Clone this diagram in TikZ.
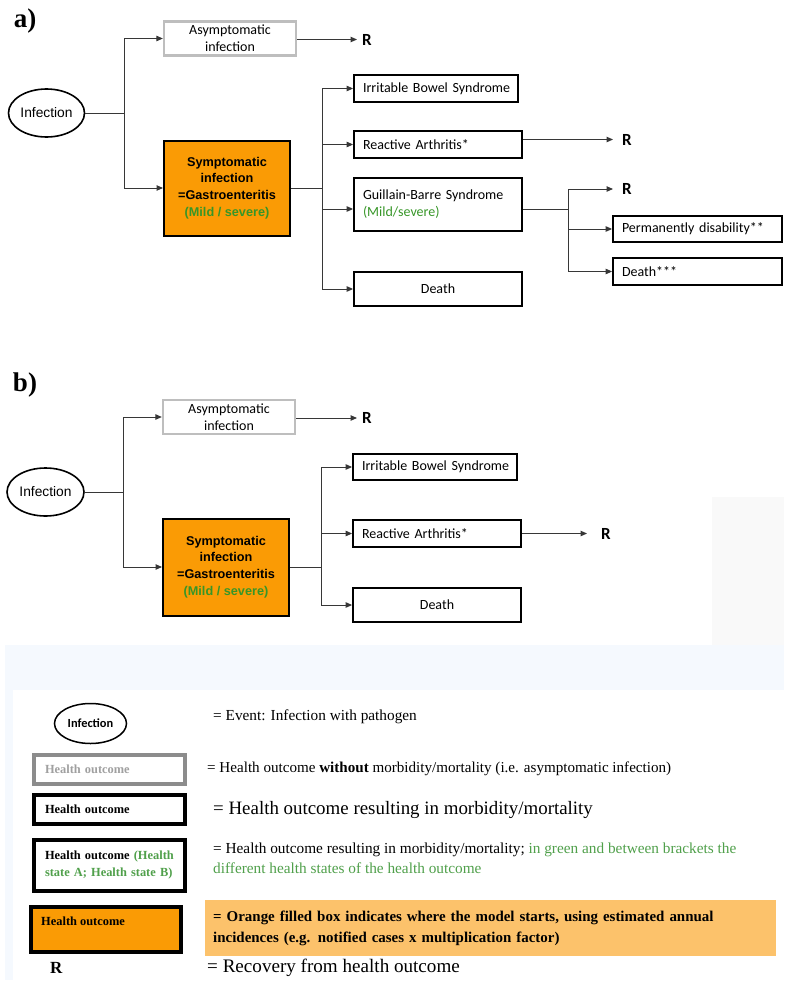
\documentclass[tikz,border=0pt]{standalone}
\usepackage{fontspec}
\setmainfont{Liberation Serif}
\newfontfamily\calfont{Carlito}
\newfontfamily\arfont{Liberation Sans}
\usetikzlibrary{arrows.meta,shapes.geometric}
\definecolor{orA}{RGB}{250,155,5}
\definecolor{orL}{RGB}{252,194,107}
\definecolor{grA}{RGB}{55,150,40}
\definecolor{grL}{RGB}{80,160,75}
\definecolor{bgB}{RGB}{245,249,254}
\definecolor{bgG}{RGB}{249,249,249}
\definecolor{connC}{RGB}{55,55,55}
\definecolor{asymC}{RGB}{190,190,190}
\definecolor{legGrayC}{RGB}{140,140,140}
\definecolor{legGrayT}{RGB}{160,160,160}
\tikzset{
  conn/.style={draw=connC, line width=1pt},
  arr/.style={conn, -{Triangle[length=6.5pt,width=5.5pt]}},
  evt/.style={ellipse, draw=black, line width=1.6pt, inner sep=0,
    font=\arfont\fontsize{13.8}{16}\selectfont},
  hbox/.style={rectangle, draw=black, line width=1.8pt, inner sep=0,
    font=\calfont\fontsize{14}{17}\selectfont},
  hboxl/.style={hbox, inner xsep=9pt, align=left},
  asymbox/.style={hbox, draw=asymC, line width=2.3pt, align=center, minimum width=132pt, minimum height=34pt},
  symbox/.style={rectangle, draw=black, fill=orA, line width=2pt, inner sep=0,
    align=center, minimum width=126pt, minimum height=95pt,
    font=\arfont\bfseries\fontsize{12.7}{16.7}\selectfont},
  rlab/.style={inner sep=0, anchor=west, font=\calfont\bfseries\fontsize{17}{17}\selectfont},
  panellab/.style={inner sep=0, font=\bfseries\fontsize{27}{27}\selectfont},
  lbox/.style={rectangle, draw=black, line width=4pt, inner ysep=0, inner xsep=11pt,
    align=left, minimum width=151pt, text width=129pt,
    font=\bfseries\fontsize{12.4}{17}\selectfont},
  ltxt/.style={anchor=west, inner sep=0, align=left},
}
\begin{document}
\begin{tikzpicture}[x=1pt,y=-1pt]
\useasboundingbox (0,0) rectangle (789,985);
% backgrounds
\fill[bgG] (712,497) rectangle (784,645);
\fill[bgB] (5,645) rectangle (784,980);
\fill[white] (13,690) rectangle (784,980);

% ================= a) =================
\node[panellab] (labA) at (25,21) {a)};
\node[evt, minimum width=76pt, minimum height=48pt] (infA) at (46.5,113) {Infection};
\node[asymbox] (asymA) at (230,38.5) {Asymptomatic\\infection};
\node[symbox] (symA) at (227,188) {Symptomatic\\infection\\=Gastroenteritis\\{\color{grA}(Mild / severe)}};
\node[hboxl, minimum width=164pt, text width=146pt, minimum height=27pt] (ibsA) at (436,88.5) {\mbox{Irritable Bowel Syndrome}};
\node[hboxl, minimum width=168pt, text width=150pt, minimum height=27pt] (raA) at (438,144.5) {\mbox{Reactive Arthritis*}};
\node[hboxl, minimum width=168pt, text width=150pt, minimum height=53pt] (gbsA) at (438,204.5) {\mbox{Guillain-Barre Syndrome}\\{\color{grA}(Mild/severe)}};
\node[hbox, minimum width=168pt, minimum height=34pt] (deathA) at (438,289) {Death};
\node[hboxl, minimum width=169pt, text width=151pt, minimum height=26pt] (permA) at (697.5,229) {\mbox{Permanently disability**}};
\node[hboxl, minimum width=169pt, text width=151pt, minimum height=27pt] (deathBA) at (697.5,271.5) {Death***};
\node[rlab] (RA1) at (362,39.5) {R};
\node[rlab] (RA2) at (622,139.5) {R};
\node[rlab] (RA3) at (622,189) {R};
\coordinate (jA1) at (124,113);
\coordinate (jA2) at (322,188);
\coordinate (jA3) at (568,209);

\draw[conn] (infA) -- (jA1);
\draw[arr] (jA1) |- (asymA);
\draw[arr] (jA1) |- (symA);
\draw[arr] (asymA.east |- RA1.west) -- ([xshift=-5pt]RA1.west);
\draw[conn] (symA.east) -- (jA2);
\draw[arr] (jA2) |- (ibsA);
\draw[arr] (jA2) |- (raA);
\draw[arr] (jA2) |- ([yshift=-4.5pt]gbsA.west);
\draw[arr] (jA2) |- (deathA);
\draw[arr] (raA.east |- RA2.west) -- ([xshift=-9pt]RA2.west);
\draw[conn] ([yshift=-4.5pt]gbsA.east) -- (jA3);
\draw[arr] (jA3) |- ([xshift=-9pt]RA3.west);
\draw[arr] (jA3) |- (permA);
\draw[arr] (jA3) |- (deathBA);

% ================= b) =================
\node[panellab] (labB) at (25,385.5) {b)};
\node[evt, minimum width=77pt, minimum height=48pt] (infB) at (45.5,492) {Infection};
\node[asymbox] (asymB) at (229,417) {Asymptomatic\\infection};
\node[symbox, minimum height=97pt] (symB) at (226,567) {Symptomatic\\infection\\=Gastroenteritis\\{\color{grA}(Mild / severe)}};
\node[hboxl, minimum width=164pt, text width=146pt, minimum height=26pt] (ibsB) at (435,467) {\mbox{Irritable Bowel Syndrome}};
\node[hboxl, minimum width=168pt, text width=150pt, minimum height=27pt] (raB) at (437,533.5) {\mbox{Reactive Arthritis*}};
\node[hbox, minimum width=168pt, minimum height=34pt] (deathB) at (437,605) {Death};
\node[rlab] (RB1) at (362,418) {R};
\node[rlab] (RB2) at (601,533.5) {R};
\coordinate (jB1) at (123,492);
\coordinate (jB2) at (321,567);

\draw[conn] (infB) -- (jB1);
\draw[arr] (jB1) |- (asymB);
\draw[arr] (jB1) |- (symB);
\draw[arr] (asymB.east |- RB1.west) -- ([xshift=-5pt]RB1.west);
\draw[conn] (symB.east) -- (jB2);
\draw[arr] (jB2) |- (ibsB);
\draw[arr] (jB2) |- (raB);
\draw[arr] (jB2) |- (deathB);
\draw[arr] (raB.east) -- ([xshift=-14pt]RB2.west);

% ================= legend =================
\node[ellipse, draw=black, line width=1.5pt, inner sep=0, minimum width=72pt, minimum height=40pt,
  font=\calfont\bfseries\fontsize{12.4}{14}\selectfont] (legInf) at (90.5,723.5) {Infection};
\node[lbox, draw=legGrayC, text=legGrayT, minimum height=29pt] (legGray) at (109.5,769.5) {Health outcome};
\node[lbox, minimum height=29pt] (legBlack) at (109.5,809.5) {Health outcome};
\node[lbox, minimum height=51pt] (legGreen) at (109.5,865.5) {Health outcome {\color{grL}(Health\\state A; Health state B)}};
\node[rectangle, draw=black, fill=orA, line width=4pt, inner sep=0, minimum width=150pt, minimum height=45pt] (legOr) at (106,929.5) {};
\node[ltxt, font=\bfseries\fontsize{12.4}{17}\selectfont] (legOrT) at (41,921) {Health outcome};
\node[ltxt, font=\bfseries\fontsize{17}{17}\selectfont] (legR) at (50,968) {R};

\node[ltxt, font=\fontsize{15.3}{18}\selectfont] (t1) at (213,717) {= Event: Infection with pathogen};
\node[ltxt, font=\fontsize{15.1}{18}\selectfont] (t2) at (207,769) {= Health outcome \textbf{without} morbidity/mortality (i.e. asymptomatic infection)};
\node[ltxt, font=\fontsize{18.9}{22}\selectfont] (t3) at (213,810) {= Health outcome resulting in morbidity/mortality};
\node[ltxt, font=\fontsize{15.3}{20}\selectfont] (t4) at (213,858) {= Health outcome resulting in morbidity/mortality; {\color{grL}in green and between brackets the}\\{\color{grL}different health states of the health outcome}};
\node[anchor=north west, fill=orL, inner xsep=8pt, inner ysep=0, minimum width=571pt, minimum height=56pt,
  text width=555pt, align=left, font=\bfseries\fontsize{14.95}{21}\selectfont] (t5) at (205,900)
  {= Orange filled box indicates where the model starts, using estimated annual\\incidences (e.g. notified cases x multiplication factor)};
\node[ltxt, font=\fontsize{19.1}{22}\selectfont] (t6) at (207,968) {= Recovery from health outcome};
\end{tikzpicture}
\end{document}
